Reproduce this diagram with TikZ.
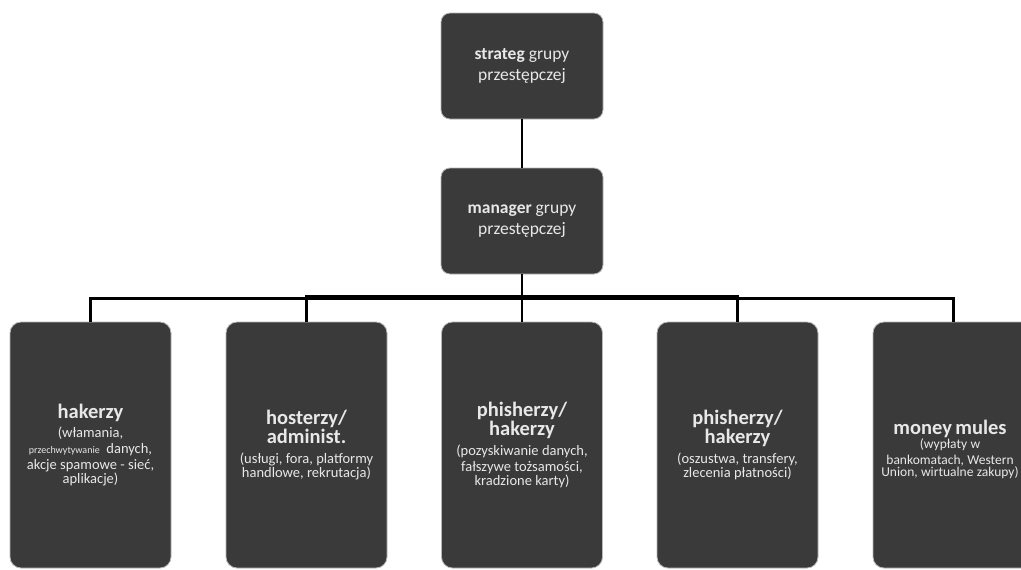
\documentclass[tikz,border=0pt]{standalone}
\usepackage{fontspec}
\setmainfont{Carlito}
\definecolor{boxfill}{HTML}{3A3A3A}
\definecolor{boxedge}{HTML}{B8B8B8}
\definecolor{txt}{HTML}{E8E8E8}
\begin{document}
\begin{tikzpicture}[x=1pt,y=-1pt,
  card/.style={draw=boxedge,line width=0.8pt,fill=boxfill,rounded corners=11pt,
    minimum width=161pt,minimum height=246pt,align=center,text=txt,inner sep=2pt,
    text width=157pt},
  topcard/.style={draw=boxedge,line width=0.8pt,fill=boxfill,rounded corners=9pt,
    minimum width=162pt,minimum height=106pt,align=center,text=txt,
    font=\fontsize{17.5}{20.5}\selectfont},
  lbl/.style={align=center,text=txt,inner sep=0pt,text width=150pt},
  conn/.style={draw=black,line width=2.2pt}]
\clip (0,0) rectangle (1021,570);
\fill[white] (0,0) rectangle (1021,570);
\newcommand{\tsz}{\fontsize{20.5}{19}\selectfont\bfseries}
\newcommand{\dsz}{\fontsize{14.5}{16}\selectfont}
\node[topcard] (strateg) at (522,66) {\textbf{strateg} grupy\\przestępczej};
\node[topcard] (manager) at (522,221) {\textbf{manager} grupy\\przestępczej};
\node[card] (b1) at (90.5,445) {{\tsz hakerzy}\\[3pt]{\dsz (włamania,\\{\fontsize{10}{16}\selectfont przechwytywanie}\ \ danych,\\akcje spamowe - sieć,\\aplikacje)}};
\node[card] (b2) at (306.5,445) {{\tsz hosterzy/\\administ.}\\[4pt]{\dsz (usługi, fora, platformy\\handlowe, rekrutacja)}};
\node[card] (b3) at (522,445) {{\tsz phisherzy/\\hakerzy}\\[4pt]{\dsz (pozyskiwanie danych,\\fałszywe tożsamości,\\kradzione karty)}};
\node[card] (b4) at (737.5,445) {{\tsz phisherzy/\\hakerzy}\\[4pt]{\dsz (oszustwa, transfery,\\zlecenia płatności)}};
\node[card] (b5) at (953.5,445) {};
\node[lbl] (b5t) at (950,449) {{\tsz money mules}\\[-1pt]{\fontsize{13.5}{15.5}\selectfont (wypłaty w\\bankomatach, Western\\Union, wirtualne zakupy)}};
\draw[conn] (strateg) -- (manager);
\draw[conn] (manager.south) -- ++(0,24) -| (b1.north);
\draw[conn] (manager.south) -- ++(0,22) -| (b2.north);
\draw[conn] (manager.south) -- (b3.north);
\draw[conn] (manager.south) -- ++(0,22) -| (b4.north);
\draw[conn] (manager.south) -- ++(0,24) -| (b5.north);
\end{tikzpicture}
\end{document}
